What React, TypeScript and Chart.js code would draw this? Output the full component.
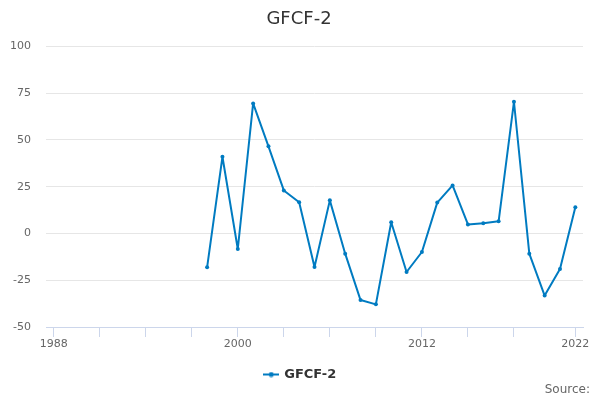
import React, { useEffect, useRef } from "react";
import { Chart, registerables } from "chart.js";

Chart.register(...registerables);

const years = [1998, 1999, 2000, 2001, 2002, 2003, 2004, 2005, 2006, 2007, 2008, 2009, 2010, 2011, 2012, 2013, 2014, 2015, 2016, 2017, 2018, 2019, 2020, 2021, 2022];
const values = [-18.1, 41.0, -8.3, 69.5, 46.6, 23.0, 16.7, -17.9, 17.7, -10.8, -35.6, -37.9, 6.0, -20.6, -9.9, 16.5, 25.7, 4.8, 5.5, 6.5, 70.4, -10.8, -33.2, -19.0, 14.0];
const xTicks = [1988, 1991, 1994, 1997, 2000, 2003, 2006, 2009, 2012, 2015, 2018, 2022];
const xLabels = [1988, 2000, 2012, 2022];
const seriesName = "GFCF-2";
const titleText = "GFCF-2";
const sourceText = "Source:";

const FONT = "'DejaVu Sans', Verdana, sans-serif";
const LINE = "#007bc1";

function makeLegendSymbol(): HTMLCanvasElement {
  const c = document.createElement("canvas");
  c.width = 16;
  c.height = 6;
  const g = c.getContext("2d")!;
  g.strokeStyle = LINE;
  g.lineWidth = 2;
  g.beginPath();
  g.moveTo(0, 3);
  g.lineTo(16, 3);
  g.stroke();
  g.fillStyle = LINE;
  g.beginPath();
  g.arc(8, 3, 2.5, 0, Math.PI * 2);
  g.fill();
  return c;
}

export default function App() {
  const ref = useRef<HTMLCanvasElement | null>(null);

  useEffect(() => {
    document.body.style.margin = "0";
    const canvas = ref.current;
    if (!canvas) return;
    const symbol = makeLegendSymbol();

    const sourcePlugin = {
      id: "sourceText",
      afterLayout(chart: any) {
        // center title and legend on the full canvas width
        if (chart.titleBlock) {
          chart.titleBlock.left = 0;
          chart.titleBlock.right = 598;
        }
        if (chart.legend) {
          chart.legend.left = 0;
          chart.legend.right = 601;
        }
      },
      afterDraw(chart: any) {
        const ctx = chart.ctx;
        ctx.save();
        ctx.font = `12px ${FONT}`;
        ctx.fillStyle = "#666666";
        ctx.textAlign = "right";
        ctx.textBaseline = "middle";
        ctx.fillText(sourceText, 590, 390);
        ctx.restore();
      },
    };

    const chart = new Chart(canvas, {
      type: "line",
      data: {
        datasets: [
          {
            label: seriesName,
            data: years.map((y, i) => ({ x: y, y: values[i] })),
            borderColor: LINE,
            backgroundColor: LINE,
            borderWidth: 2,
            borderJoinStyle: "round",
            borderCapStyle: "round",
            pointRadius: 2,
            pointHoverRadius: 3,
            pointBackgroundColor: LINE,
            pointBorderWidth: 0,
            tension: 0,
          },
        ],
      },
      options: {
        responsive: false,
        animation: false,
        maintainAspectRatio: false,
        layout: { padding: { top: 0, right: 17, bottom: 9, left: 0 } },
        scales: {
          x: {
            type: "linear",
            min: 1987.5,
            max: 2022.5,
            afterBuildTicks: (scale: any) => {
              scale.ticks = xTicks.map((v) => ({ value: v }));
            },
            afterFit: (scale: any) => {
              scale.height = 33;
            },
            ticks: {
              autoSkip: false,
              maxRotation: 0,
              padding: 1,
              color: "#666666",
              font: { family: FONT, size: 11 },
              callback: (v: any) => (xLabels.includes(Number(v)) ? String(v) : ""),
            },
            grid: {
              drawOnChartArea: false,
              drawTicks: true,
              tickLength: 10,
              color: "#ccd6eb",
              lineWidth: 1,
            },
            border: { display: true, color: "#ccd6eb", width: 1 },
          },
          y: {
            min: -50,
            max: 100,
            afterFit: (scale: any) => {
              scale.width = 46;
            },
            ticks: {
              stepSize: 25,
              padding: 15,
              color: "#666666",
              font: { family: FONT, size: 11 },
            },
            grid: {
              drawTicks: false,
              color: "#e6e6e6",
              lineWidth: 1,
            },
            border: { display: false },
          },
        },
        plugins: {
          title: {
            display: true,
            text: titleText,
            color: "#333333",
            font: { family: FONT, size: 18, weight: "normal" },
            padding: { top: 9, bottom: 15.8 },
          },
          legend: {
            display: true,
            position: "bottom",
            labels: {
              color: "#333333",
              font: { family: FONT, size: 13, weight: "bold" },
              usePointStyle: true,
              padding: 8,
              generateLabels: (ch: any) =>
                ch.data.datasets.map((ds: any, i: number) => ({
                  text: ds.label,
                  fillStyle: LINE,
                  strokeStyle: LINE,
                  lineWidth: 0,
                  pointStyle: symbol,
                  hidden: false,
                  datasetIndex: i,
                  fontColor: "#333333",
                })),
            },
          },
          tooltip: { enabled: false },
        },
      },
      plugins: [sourcePlugin],
    });

    return () => {
      chart.destroy();
    };
  }, []);

  return (
    <div style={{ position: "absolute", left: 0, top: 0, width: 600, height: 400 }}>
      <canvas ref={ref} width={600} height={400} style={{ width: 600, height: 400 }} />
    </div>
  );
}
